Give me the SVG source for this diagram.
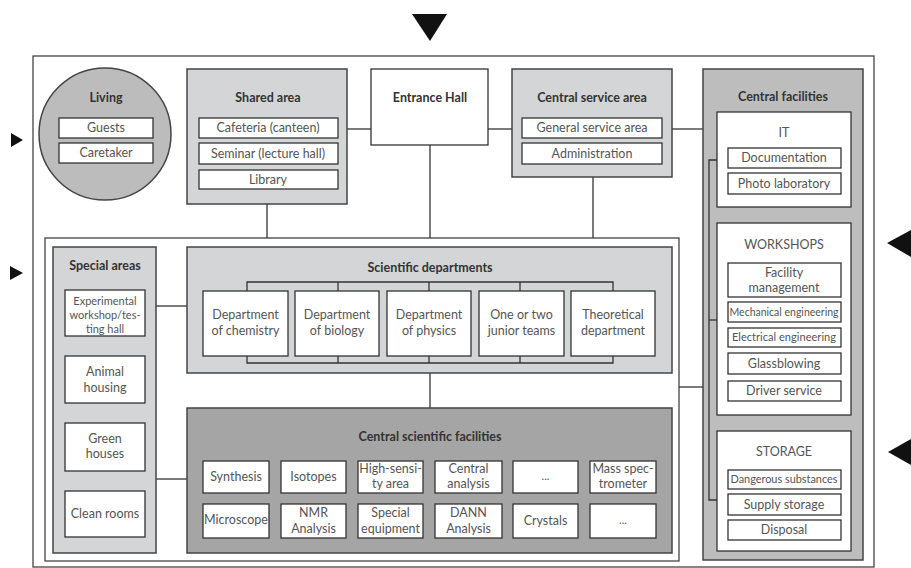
<svg xmlns="http://www.w3.org/2000/svg" width="911" height="568" viewBox="0 0 911 568">
<style>
text{font-family:Lato,"Liberation Sans",sans-serif;text-anchor:middle;}
.t{font-weight:bold;font-size:12.5px;fill:#333;}
.i{font-size:12.5px;fill:#555;}
.s{font-size:11px;fill:#555;}
.b{fill:#fff;stroke:#333;stroke-width:1.3;}
.g1{fill:#d4d5d7;stroke:#444;stroke-width:1.5;}
.g2{fill:#bdbdbd;stroke:#444;stroke-width:1.5;}
.g3{fill:#a5a5a5;stroke:#444;stroke-width:1.5;}
.c{fill:none;stroke:#333;stroke-width:1.3;}
.fr{fill:none;stroke:#444;stroke-width:1.3;}
.ar{fill:#111;}
</style>
<rect width="911" height="568" fill="#fff"/>
<g id="frames">
<rect class="fr" x="33" y="56" width="841" height="511"/>
<rect class="fr" x="45" y="238" width="634" height="323"/>
</g>
<g id="arrows">
<polygon class="ar" points="412,14 447,14 430,41"/>
<polygon class="ar" points="11,133 23,140 11,147"/>
<polygon class="ar" points="10,266 23,273 10,280"/>
<polygon class="ar" points="911,230 887,243 911,257"/>
<polygon class="ar" points="911,439 888,452 911,465"/>
</g>
<g id="connectors">
<line class="c" x1="347" y1="129" x2="371" y2="129"/>
<line class="c" x1="488" y1="129" x2="512" y2="129"/>
<line class="c" x1="672" y1="129" x2="703" y2="129"/>
<line class="c" x1="267" y1="204" x2="267" y2="238"/>
<line class="c" x1="430" y1="145" x2="430" y2="238"/>
<line class="c" x1="593" y1="177" x2="593" y2="238"/>
<line class="c" x1="679" y1="387" x2="703" y2="387"/>
<line class="c" x1="156" y1="306" x2="187" y2="306"/>
<line class="c" x1="156" y1="479" x2="187" y2="479"/>
<line class="c" x1="430" y1="373" x2="430" y2="408"/>
</g>
<g id="living">
<circle cx="105" cy="134" r="66" fill="#bcbcbc" stroke="#444" stroke-width="1.5"/>
<text class="t" x="106" y="102">Living</text>
<rect class="b" x="59" y="118" width="94" height="20"/><text class="i" x="106" y="132">Guests</text>
<rect class="b" x="59" y="143" width="94" height="20"/><text class="i" x="106" y="157">Caretaker</text>
</g>
<g id="shared-area">
<rect class="g1" x="187" y="69" width="160" height="135"/>
<text class="t" x="268" y="102">Shared area</text>
<rect class="b" x="199" y="118" width="139" height="20"/><text class="i" x="268" y="132">Cafeteria (canteen)</text>
<rect class="b" x="199" y="143" width="139" height="21"/><text class="i" x="268" y="158">Seminar (lecture hall)</text>
<rect class="b" x="199" y="170" width="139" height="19"/><text class="i" x="268" y="184">Library</text>
</g>
<g id="entrance-hall">
<rect class="b" x="371" y="69" width="117" height="76"/>
<text class="t" x="430" y="102">Entrance Hall</text>
</g>
<g id="central-service-area">
<rect class="g1" x="512" y="69" width="160" height="108"/>
<text class="t" x="592" y="102">Central service area</text>
<rect class="b" x="522" y="118" width="140" height="20"/><text class="i" x="592" y="132">General service area</text>
<rect class="b" x="522" y="143" width="140" height="21"/><text class="i" x="592" y="158">Administration</text>
</g>
<g id="central-facilities">
<rect class="g2" x="703" y="69" width="160" height="491"/>
<text class="t" x="783" y="101">Central facilities</text>
<polyline class="c" points="717,160 709,160 709,500 717,500"/>
<line class="c" x1="709" y1="320" x2="717" y2="320"/>
<rect class="b" x="717" y="112" width="134" height="95"/>
<text class="i" x="784" y="137">IT</text>
<rect class="b" x="728" y="148" width="113" height="20"/><text class="i" x="784" y="162">Documentation</text>
<rect class="b" x="728" y="173" width="113" height="21"/><text class="i" x="784" y="188">Photo laboratory</text>
<rect class="b" x="717" y="223" width="134" height="192"/>
<text class="i" x="784" y="249">WORKSHOPS</text>
<rect class="b" x="728" y="263" width="113" height="34"/><text class="i" x="784" y="277">Facility</text><text class="i" x="784" y="292">management</text>
<rect class="b" x="728" y="302" width="113" height="20"/><text class="s" x="784" y="316" textLength="109" lengthAdjust="spacingAndGlyphs">Mechanical engineering</text>
<rect class="b" x="728" y="328" width="113" height="19"/><text class="s" x="784" y="341" textLength="104" lengthAdjust="spacingAndGlyphs">Electrical engineering</text>
<rect class="b" x="728" y="353" width="113" height="21"/><text class="i" x="784" y="368">Glassblowing</text>
<rect class="b" x="728" y="381" width="113" height="20"/><text class="i" x="784" y="395">Driver service</text>
<rect class="b" x="717" y="431" width="134" height="120"/>
<text class="i" x="784" y="456">STORAGE</text>
<rect class="b" x="728" y="470" width="113" height="19"/><text class="s" x="784" y="483" textLength="107" lengthAdjust="spacingAndGlyphs">Dangerous substances</text>
<rect class="b" x="728" y="494" width="113" height="21"/><text class="i" x="784" y="509">Supply storage</text>
<rect class="b" x="728" y="520" width="113" height="20"/><text class="i" x="784" y="534">Disposal</text>
</g>
<g id="special-areas">
<rect class="g1" x="53" y="247" width="103" height="306"/>
<text class="t" x="105" y="270">Special areas</text>
<rect class="b" x="65" y="290" width="80" height="46"/>
<text class="s" x="105" y="305">Experimental</text><text class="s" x="105" y="319">workshop/tes-</text><text class="s" x="105" y="333">ting hall</text>
<rect class="b" x="65" y="356" width="80" height="47"/>
<text class="i" x="105" y="376">Animal</text><text class="i" x="105" y="392">housing</text>
<rect class="b" x="65" y="423" width="80" height="48"/>
<text class="i" x="105" y="443">Green</text><text class="i" x="105" y="458">houses</text>
<rect class="b" x="65" y="491" width="80" height="46"/>
<text class="i" x="105" y="518">Clean rooms</text>
</g>
<g id="scientific-departments">
<rect class="g1" x="187" y="247" width="485" height="126"/>
<text class="t" x="430" y="272">Scientific departments</text>
<polyline class="c" points="247,291 247,282 613,282 613,291"/>
<polyline class="c" points="247,356 247,363 613,363 613,356"/>
<line class="c" x1="338" y1="282" x2="338" y2="291"/><line class="c" x1="429" y1="282" x2="429" y2="291"/><line class="c" x1="520" y1="282" x2="520" y2="291"/>
<line class="c" x1="338" y1="356" x2="338" y2="363"/><line class="c" x1="429" y1="356" x2="429" y2="363"/><line class="c" x1="520" y1="356" x2="520" y2="363"/>
<rect class="b" x="203" y="291" width="85" height="65"/><text class="i" x="245.5" y="319">Department</text><text class="i" x="245.5" y="335">of chemistry</text>
<rect class="b" x="295" y="291" width="84" height="65"/><text class="i" x="337" y="319">Department</text><text class="i" x="337" y="335">of biology</text>
<rect class="b" x="387" y="291" width="84" height="65"/><text class="i" x="429" y="319">Department</text><text class="i" x="429" y="335">of physics</text>
<rect class="b" x="479" y="291" width="85" height="65"/><text class="i" x="521.5" y="319">One or two</text><text class="i" x="521.5" y="335">junior teams</text>
<rect class="b" x="571" y="291" width="84" height="65"/><text class="i" x="613" y="319">Theoretical</text><text class="i" x="613" y="335">department</text>
</g>
<g id="central-scientific-facilities">
<rect class="g3" x="187" y="408" width="485" height="145"/>
<text class="t" x="430" y="441">Central scientific facilities</text>
<rect class="b" x="203" y="461" width="66" height="32"/><text class="i" x="236" y="481">Synthesis</text>
<rect class="b" x="281" y="461" width="65" height="32"/><text class="i" x="313.5" y="481">Isotopes</text>
<rect class="b" x="358" y="461" width="65" height="32"/><text class="i" x="390.5" y="473">High-sensi-</text><text class="i" x="390.5" y="488">ty area</text>
<rect class="b" x="435" y="461" width="67" height="32"/><text class="i" x="468.5" y="473">Central</text><text class="i" x="468.5" y="488">analysis</text>
<rect class="b" x="513" y="461" width="65" height="32"/><text class="s" x="545.5" y="480">...</text>
<rect class="b" x="590" y="461" width="66" height="32"/><text class="i" x="623" y="473">Mass spec-</text><text class="i" x="623" y="488">trometer</text>
<rect class="b" x="203" y="504" width="66" height="34"/><text class="i" x="236" y="524">Microscope</text>
<rect class="b" x="281" y="504" width="65" height="34"/><text class="i" x="313.5" y="517">NMR</text><text class="i" x="313.5" y="533">Analysis</text>
<rect class="b" x="358" y="504" width="65" height="34"/><text class="i" x="390.5" y="517">Special</text><text class="i" x="390.5" y="533">equipment</text>
<rect class="b" x="435" y="504" width="67" height="34"/><text class="i" x="468.5" y="517">DANN</text><text class="i" x="468.5" y="533">Analysis</text>
<rect class="b" x="513" y="504" width="65" height="34"/><text class="i" x="545.5" y="525">Crystals</text>
<rect class="b" x="590" y="504" width="66" height="34"/><text class="s" x="623" y="524">...</text>
</g>
</svg>
